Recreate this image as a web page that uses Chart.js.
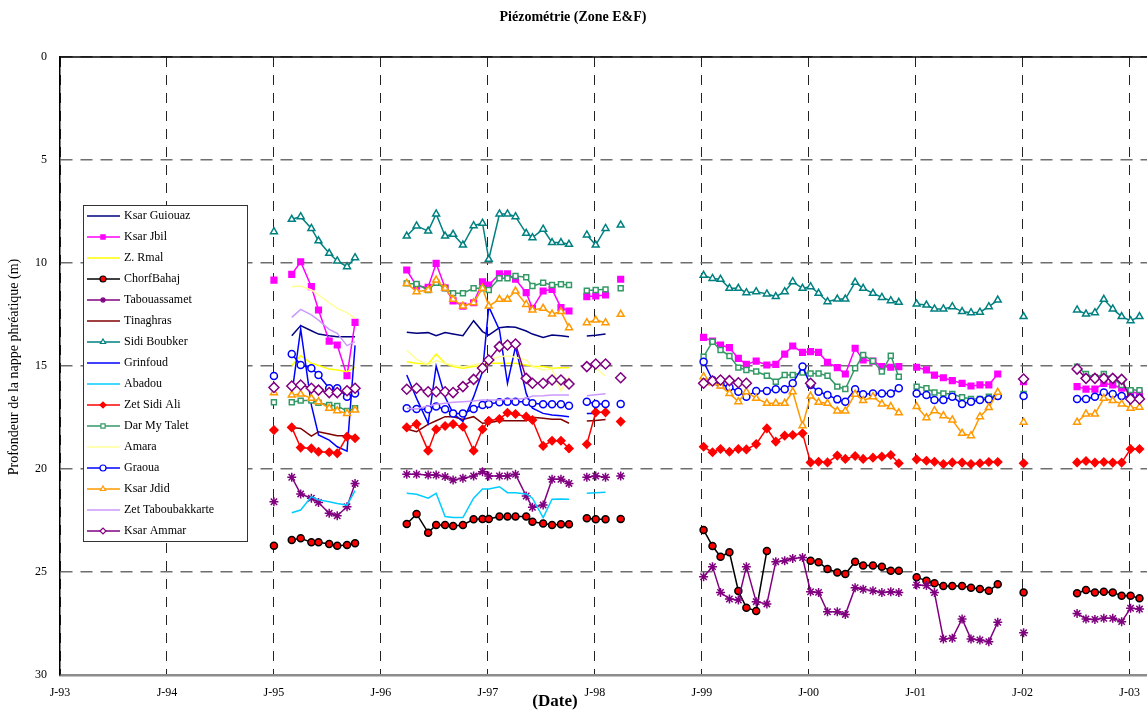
<!DOCTYPE html>
<html>
<head>
<meta charset="utf-8">
<title>Piézométrie (Zone E&F)</title>
<script src="https://cdn.jsdelivr.net/npm/chart.js@4.4.1/dist/chart.umd.min.js"></script>
<style>
    html, body { margin: 0; padding: 0; background: #fff; overflow: hidden; }
    canvas { display: block; }
</style>
</head>
<body>
<!-- a little wider than the window: the plot runs off the right edge as in the original -->
<canvas id="piezoChart" width="1154" height="713"></canvas>
<script>
const _ = null;

// Sampling dates, in months since January 1993
const dates = [
    24, 26, 27, 28.2, 29, 30.2, 31.1, 32.2, 33.1,
    38.9, 40, 41.3, 42.2, 43.2, 44.1, 45.2, 46.4, 47.4, 48.1, 49.3, 50.2, 51.1, 52.3, 53, 54.2, 55.2, 56.2, 57.1,
    59.1, 60.1, 61.2, 62.9,
    72.2, 73.2, 74.1, 75.1, 76.1, 77, 78.1, 79.3, 80.3, 81.3, 82.2, 83.3, 84.2, 85.1, 86.1, 87.2, 88.1, 89.2, 90.1, 91.2, 92.2, 93.2, 94.1,
    96.1, 97.2, 98.1, 99.1, 100.1, 101.2, 102.2, 103.2, 104.2, 105.2,
    108.1,
    114.1, 115.1, 116.1, 117.1, 118.1, 119.1, 120.1, 121.1
];

const xTickLabels = ['J-93', 'J-94', 'J-95', 'J-96', 'J-97', 'J-98', 'J-99', 'J-00', 'J-01', 'J-02', 'J-03'];

// Depth of the water table (m), one value per date
const ksarGuiouaz = [
    _, 13.53, 13.04, 13.29, 13.45, 13.53, 13.58, 13.58, 13.58,
    13.36, 13.41, 13.38, 13.53, 13.38, 13.45, 13.53, 12.8, 13.33, 13.5, 13.14, 13.09, 13.12, 13.3, 13.45, 13.61, 13.5, 13.53, 13.58,
    13.54, 13.51, 13.45, _,
    _, _, _, _, _, _, _, _, _, _, _, _, _, _, _, _, _, _, _, _, _, _, _,
    _, _, _, _, _, _, _, _, _, _,
    _,
    _, _, _, _, _, _, _, _
];
const ksarJbil = [
    10.83, 10.55, 9.94, 11.15, 12.28, 13.79, 13.98, 15.47, 12.88,
    10.34, 11.12, 11.18, 10.02, 11.2, 11.84, 12.09, 11.93, 10.91, 11.07, 10.53, 10.53, 10.79, 11.44, 12.2, 11.36, 11.28, 12.17, 12.33,
    11.63, 11.6, 11.55, 10.79,
    13.61, 13.79, 13.98, 14.11, 14.63, 14.92, 14.76, 14.95, 14.92, 14.42, 14.03, 14.34, 14.3, 14.34, 14.82, 15.08, 15.39, 14.14, 14.71, 14.76, 15.03, 15.06, 15.03,
    15.06, 15.19, 15.44, 15.57, 15.71, 15.84, 15.97, 15.92, 15.92, 15.39,
    15.76,
    16.0, 16.12, 16.12, 15.84, 15.92, 16.08, 16.25, 16.33
];
const zRmal = [
    _, 14.98, 14.5, 14.87, 14.98, 15.15, 15.19, 15.28, 15.06,
    14.79, 14.87, 14.9, 14.42, 14.87, 15.03, 15.11, 15.03, 14.98, 14.87, 14.87, 14.87, 14.87, 14.95, 15.03, 15.03, 15.11, 15.08, 15.08,
    _, _, _, _,
    _, _, _, _, _, _, _, _, _, _, _, _, _, _, _, _, _, _, _, _, _, _, _,
    _, _, _, _, _, _, _, _, _, _,
    _,
    _, _, _, _, _, _, _, _
];
const chorfBahaj = [
    23.72, 23.45, 23.36, 23.56, 23.56, 23.64, 23.72, 23.69, 23.61,
    22.67, 22.18, 23.09, 22.72, 22.72, 22.77, 22.72, 22.44, 22.43, 22.43, 22.31, 22.31, 22.31, 22.31, 22.56, 22.64, 22.72, 22.68, 22.68,
    22.39, 22.44, 22.44, 22.43,
    22.96, 23.74, 24.26, 24.04, 25.92, 26.73, 26.89, 23.98, _, _, _, _, 24.45, 24.53, 24.85, 25.02, 25.1, 24.5, 24.69, 24.69, 24.74, 24.94, 24.94,
    25.26, 25.42, 25.55, 25.68, 25.68, 25.68, 25.76, 25.83, 25.91, 25.6,
    25.99,
    26.03, 25.87, 25.99, 25.96, 25.99, 26.15, 26.15, 26.28
];
const tabouassamet = [
    21.59, 20.4, 21.21, 21.42, 21.63, 22.15, 22.27, 21.83, 20.7,
    20.26, 20.26, 20.29, 20.29, 20.37, 20.53, 20.45, 20.34, 20.13, 20.34, 20.34, 20.34, 20.26, 21.31, 21.86, 21.75, 20.5, 20.5, 20.7,
    20.4, 20.34, 20.4, 20.34,
    25.23, 24.74, 25.99, 26.31, 26.36, 24.74, 26.44, 26.55, 24.5, 24.45, 24.34, 24.3, 25.96, 25.99, 26.93, 26.93, 27.06, 25.76, 25.84, 25.91, 26.0, 25.96, 26.0,
    25.63, 25.66, 26.0, 28.25, 28.22, 27.28, 28.25, 28.3, 28.38, 27.44,
    27.95,
    27.01, 27.28, 27.3, 27.25, 27.25, 27.41, 26.76, 26.8
];
const tinaghras = [
    _, 17.98, 18.03, 18.4, 18.19, 18.3, 18.38, 18.38, 18.43,
    18.06, 18.19, 17.83, 17.66, 17.46, 17.46, 17.59, 17.46, 17.78, 17.75, 17.66, 17.66, 17.66, 17.66, 17.49, 17.54, 17.59, 17.59, 17.78,
    17.67, 17.64, 17.6, _,
    _, _, _, _, _, _, _, _, _, _, _, _, _, _, _, _, _, _, _, _, _, _, _,
    _, _, _, _, _, _, _, _, _, _,
    _,
    _, _, _, _, _, _, _, _
];
const sidiBoubker = [
    8.48, 7.88, 7.75, 8.32, 8.92, 9.53, 9.9, 10.18, 9.74,
    8.69, 8.2, 8.45, 7.62, 8.69, 8.61, 9.13, 8.19, 8.07, 9.82, 7.62, 7.62, 7.75, 8.56, 8.77, 8.36, 9.01, 9.01, 9.09,
    8.64, 9.13, 8.32, 8.16,
    10.6, 10.75, 10.79, 11.23, 11.23, 11.44, 11.39, 11.5, 11.63, 11.39, 10.91, 11.23, 11.15, 11.47, 11.88, 11.75, 11.75, 10.94, 11.23, 11.47, 11.67, 11.83, 11.91,
    11.99, 12.04, 12.23, 12.23, 12.12, 12.36, 12.41, 12.39, 12.12, 11.8,
    12.6,
    12.28, 12.48, 12.41, 11.76, 12.23, 12.6, 12.8, 12.6
];
const grinfoud = [
    _, 16.4, 13.2, 16.9, 18.35, 18.6, 18.92, 19.13, 14.0,
    15.44, 16.57, 17.78, 15.0, 16.5, 17.3, 17.7, 16.5, 15.27, 12.12, 13.25, 15.84, 14.06, 16.33, 17.05, 17.3, 17.38, 17.41, 17.46,
    17.3, 17.3, _, _,
    _, _, _, _, _, _, _, _, _, _, _, _, _, _, _, _, _, _, _, _, _, _, _,
    _, _, _, _, _, _, _, _, _, _,
    _,
    _, _, _, _, _, _, _, _
];
const abadou = [
    _, 22.12, 21.99, 21.34, 21.5, 21.59, 21.67, 21.75, 21.05,
    21.18, 21.23, 21.42, 21.18, 22.31, 22.36, 22.36, 21.42, 20.97, 20.97, 20.86, 21.15, 21.15, 21.21, 21.42, 22.36, 21.47, 21.46, 21.47,
    21.18, 21.15, 21.13, _,
    _, _, _, _, _, _, _, _, _, _, _, _, _, _, _, _, _, _, _, _, _, _, _,
    _, _, _, _, _, _, _, _, _, _,
    _,
    _, _, _, _, _, _, _, _
];
const zetSidiAli = [
    18.11, 17.98, 18.96, 19.0, 19.16, 19.19, 19.24, 18.43, 18.51,
    17.98, 17.82, 19.11, 18.07, 17.91, 17.82, 17.95, 19.11, 18.07, 17.66, 17.57, 17.27, 17.33, 17.46, 17.62, 18.88, 18.63, 18.63, 19.0,
    18.8, 17.25, 17.25, 17.7,
    18.92, 19.19, 19.03, 19.16, 19.03, 19.05, 18.79, 18.03, 18.67, 18.38, 18.35, 18.27, 19.68, 19.65, 19.68, 19.35, 19.51, 19.37, 19.51, 19.45, 19.4, 19.32, 19.72,
    19.53, 19.6, 19.65, 19.76, 19.68, 19.69, 19.76, 19.72, 19.66, 19.66,
    19.72,
    19.68, 19.61, 19.69, 19.66, 19.69, 19.69, 19.03, 19.03
];
const darMyTalet = [
    16.76, 16.76, 16.68, 16.68, 16.78, 16.89, 16.94, 17.18, 17.05,
    10.99, 11.02, 11.31, 10.96, 11.23, 11.47, 11.47, 11.23, 11.23, 11.31, 10.74, 10.74, 10.63, 10.69, 11.12, 10.96, 11.07, 11.03, 11.07,
    11.34, 11.31, 11.28, 11.23,
    14.55, 13.82, 14.22, 14.51, 15.08, 15.19, 15.27, 15.47, 15.76, 15.44, 15.44, 15.32, 15.36, 15.36, 15.47, 16.0, 16.12, 15.11, 14.47, 14.76, 15.27, 14.5, 15.52,
    16.0, 16.08, 16.29, 16.33, 16.36, 16.52, 16.6, 16.6, 16.49, 16.46,
    16.36,
    15.03, 15.39, 15.55, 15.39, 15.6, 15.92, 16.17, 16.17
];
const amara = [
    _, 11.15, 11.12, 11.31, 11.55, 11.93, 12.2, 12.41, 12.69,
    14.22, 14.68, 14.95, 14.74, 14.87, 14.95, 15.03, 14.95, 14.87, 14.71, 14.55, 14.51, 14.58, 14.71, 15.03, 15.19, 15.15, 16.2, 15.52,
    _, 15.1, 15.5, _,
    _, _, _, _, _, _, _, _, _, _, _, _, _, _, _, _, _, _, _, _, _, _, _,
    _, _, _, _, _, _, _, _, _, _,
    _,
    _, _, _, _, _, _, _, _
];
const graoua = [
    15.49, 14.42, 14.95, 15.11, 15.44, 16.08, 16.08, 16.49, 16.33,
    17.05, 17.09, 17.1, 16.97, 17.1, 17.3, 17.3, 17.09, 16.89, 16.84, 16.76, 16.73, 16.73, 16.73, 16.81, 16.86, 16.86, 16.86, 16.93,
    16.73, 16.84, 16.84, 16.84,
    14.79, 15.68, 15.89, 16.03, 16.25, 16.49, 16.21, 16.21, 16.13, 16.13, 15.84, 15.03, 15.92, 16.25, 16.41, 16.62, 16.73, 16.13, 16.37, 16.33, 16.33, 16.33, 16.08,
    16.33, 16.41, 16.65, 16.65, 16.49, 16.84, 16.73, 16.65, 16.62, 16.46,
    16.46,
    16.6, 16.6, 16.49, 16.29, 16.36, 16.46, 16.54, 16.57
];
const ksarJdid = [
    16.3, 16.41, 16.36, 16.57, 16.73, 17.05, 17.17, 17.3, 17.14,
    10.99, 11.39, 11.31, 10.83, 11.23, 11.76, 12.09, 11.93, 11.23, 12.09, 11.76, 11.76, 11.36, 12.01, 12.28, 12.2, 12.48, 12.36, 13.14,
    12.9, 12.77, 12.9, 12.49,
    15.52, 15.81, 15.97, 16.33, 16.73, 16.25, 16.57, 16.81, 16.81, 16.81, 16.25, 17.9, 16.46, 16.76, 16.81, 17.18, 17.18, 16.37, 16.68, 16.49, 16.84, 16.97, 17.27,
    16.97, 17.51, 17.17, 17.41, 17.62, 18.27, 18.38, 17.46, 17.02, 16.28,
    17.73,
    17.73, 17.33, 17.33, 16.57, 16.68, 16.84, 17.05, 17.0
];
const zetTaboubakkarte = [
    _, 12.64, 12.25, 12.52, 12.77, 13.22, 13.41, 14.01, 13.82,
    17.05, 17.09, 16.94, 16.86, 16.81, 16.76, 16.73, 16.7, 16.65, 16.65, 16.65, 16.62, 16.62, 16.57, 16.46, 16.44, 16.41, 16.41, 16.41,
    16.45, 16.4, 16.35, _,
    _, _, _, _, _, _, _, _, _, _, _, _, _, _, _, _, _, _, _, _, _, _, _,
    _, _, _, _, _, _, _, _, _, _,
    _,
    _, _, _, _, _, _, _, _
];
const ksarAmmar = [
    16.04, 15.97, 15.92, 16.08, 16.17, 16.29, 16.29, 16.2, 16.08,
    16.13, 16.08, 16.25, 16.25, 16.25, 16.29, 16.0, 15.65, 15.1, 14.71, 14.06, 13.98, 13.93, 15.6, 15.84, 15.84, 15.68, 15.68, 15.87,
    15.03, 14.9, 14.9, 15.57,
    15.84, 15.73, 15.68, 15.71, 15.81, 15.84, _, _, _, _, _, _, 15.84, _, _, _, _, _, _, _, _, _, _,
    _, _, _, _, _, _, _, _, _, _,
    15.63,
    15.15, 15.6, 15.6, 15.6, 15.6, 15.65, 16.6, 16.6
];

// Series styles (legend order)
const series = [
    { label: 'Ksar Guiouaz', data: ksarGuiouaz, color: '#000080' },
    { label: 'Ksar Jbil', data: ksarJbil, color: '#ff00ff', marker: 'rect', fill: '#ff00ff', radius: 4 },
    { label: 'Z. Rmal', data: zRmal, color: '#ffff00' },
    { label: 'ChorfBahaj', data: chorfBahaj, color: '#000000', marker: 'circle', fill: '#ff0000', radius: 3.5 },
    { label: 'Tabouassamet', data: tabouassamet, color: '#800080', marker: 'star', fill: '#800080', radius: 4.5 },
    { label: 'Tinaghras', data: tinaghras, color: '#800000' },
    { label: 'Sidi Boubker', data: sidiBoubker, color: '#008080', marker: 'triangle', fill: '#ffffff', radius: 4 },
    { label: 'Grinfoud', data: grinfoud, color: '#0000ff' },
    { label: 'Abadou', data: abadou, color: '#00ccff' },
    { label: 'Zet Sidi Ali', data: zetSidiAli, color: '#ff0000', marker: 'rectRot', fill: '#ff0000', radius: 4 },
    { label: 'Dar My Talet', data: darMyTalet, color: '#339966', marker: 'rect', fill: '#ffffff', radius: 3.5 },
    { label: 'Amara', data: amara, color: '#ffff99' },
    { label: 'Graoua', data: graoua, color: '#0000ff', marker: 'circle', fill: '#ffffff', radius: 3.5 },
    { label: 'Ksar Jdid', data: ksarJdid, color: '#ff9900', marker: 'triangle', fill: '#ffffff', radius: 4 },
    { label: 'Zet Taboubakkarte', data: zetTaboubakkarte, color: '#cc99ff' },
    { label: 'Ksar Ammar', data: ksarAmmar, color: '#800080', marker: 'rectRot', fill: '#ffffff', radius: 5 }
];

const FONT = "'Liberation Serif', 'Times New Roman', serif";
Chart.defaults.font.family = FONT;
Chart.defaults.color = '#000';

/**
 * Hide the line between two samples that are far apart (missing campaigns)
 */
function hideLongGaps(ctx) {
    return ctx.p1.parsed.x - ctx.p0.parsed.x > 1.5 ? 'rgba(0,0,0,0)' : undefined;
}

const datasets = series.map((s, i) => ({
    label: s.label,
    data: s.data,
    borderColor: s.color,
    backgroundColor: s.color,
    borderWidth: 1.5,
    pointStyle: s.marker || 'circle',
    pointRadius: s.marker ? s.radius : 0,
    pointHoverRadius: s.marker ? s.radius : 0,
    pointBackgroundColor: s.fill || s.color,
    pointBorderColor: s.marker === 'circle' && s.fill === '#ff0000' ? '#000' : s.color,
    pointBorderWidth: 1.5,
    spanGaps: false,
    tension: 0,
    order: series.length - i,
    segment: { borderColor: hideLongGaps }
}));

// Excel-like legend box with line + marker samples
const legendBox = {
    id: 'legendBox',
    afterDatasetsDraw(chart) {
        const ctx = chart.ctx;
        const x0 = 83, y0 = 205, w = 164, h = 336, step = 21;
        ctx.save();
        ctx.fillStyle = '#fff';
        ctx.fillRect(x0, y0, w, h);
        ctx.strokeStyle = '#333';
        ctx.lineWidth = 1;
        ctx.strokeRect(x0 + 0.5, y0 + 0.5, w, h);
        ctx.font = '12px ' + FONT;
        ctx.textBaseline = 'middle';
        ctx.textAlign = 'left';
        chart.data.datasets.forEach((ds, i) => {
            const y = y0 + 11 + i * step;
            ctx.strokeStyle = ds.borderColor;
            ctx.lineWidth = 1.5;
            ctx.beginPath();
            ctx.moveTo(x0 + 4, y);
            ctx.lineTo(x0 + 37, y);
            ctx.stroke();
            if (ds.pointRadius > 0) {
                ctx.fillStyle = ds.pointBackgroundColor;
                ctx.strokeStyle = ds.pointBorderColor;
                ctx.lineWidth = 1.2;
                Chart.helpers.drawPoint(ctx, { pointStyle: ds.pointStyle, radius: 3, borderWidth: 1.2, rotation: 0 }, x0 + 20, y);
            }
            ctx.fillStyle = '#000';
            ctx.fillText(ds.label, x0 + 41, y);
        });
        ctx.restore();
    }
};

// Titles and the top frame line
const frameAndTitles = {
    id: 'frameAndTitles',
    afterDraw(chart) {
        const ctx = chart.ctx;
        const area = chart.chartArea;
        ctx.save();
        ctx.strokeStyle = '#000';
        ctx.lineWidth = 1.5;
        ctx.beginPath();
        ctx.moveTo(area.left, area.top);
        ctx.lineTo(area.right, area.top);
        ctx.stroke();

        ctx.fillStyle = '#000';
        ctx.textAlign = 'center';
        ctx.textBaseline = 'middle';
        ctx.font = 'bold 14px ' + FONT;
        ctx.fillText('Piézométrie (Zone E&F)', 573, 17);

        ctx.font = 'bold 17px ' + FONT;
        ctx.fillText('(Date)', 555, 702);

        ctx.font = '14px ' + FONT;
        ctx.translate(14, 367);
        ctx.rotate(-Math.PI / 2);
        ctx.fillText('Profondeur de la nappe phréatique (m)', 0, 0);
        ctx.restore();
    }
};

const chart = new Chart(document.getElementById('piezoChart').getContext('2d'), {
    type: 'line',
    data: { labels: dates, datasets: datasets },
    options: {
        responsive: false,
        animation: false,
        events: [],
        layout: { padding: { top: 57, left: 0, right: 0, bottom: 0 } },
        plugins: {
            legend: { display: false },
            title: { display: false },
            tooltip: { enabled: false }
        },
        scales: {
            x: {
                type: 'linear',
                min: 0,
                max: 122,
                afterFit: scale => { scale.height = 38; },
                grid: { color: '#222', lineWidth: 1, drawTicks: false },
                border: { display: true, color: '#8c8c8c', width: 2.5, dash: [10, 8] },
                ticks: {
                    stepSize: 12,
                    includeBounds: false,
                    autoSkip: false,
                    maxRotation: 0,
                    padding: 11,
                    font: { size: 12 },
                    callback: value => (value % 12 === 0 ? xTickLabels[value / 12] : '')
                }
            },
            y: {
                min: 0,
                max: 30,
                reverse: true,
                afterFit: scale => { scale.width = 60; },
                grid: { color: '#6e6e6e', lineWidth: 1.5, drawTicks: false },
                border: { display: true, color: '#000', width: 1.5, dash: [12, 8] },
                ticks: { stepSize: 5, padding: 13, font: { size: 12 } }
            }
        }
    },
    plugins: [legendBox, frameAndTitles]
});
</script>
</body>
</html>
